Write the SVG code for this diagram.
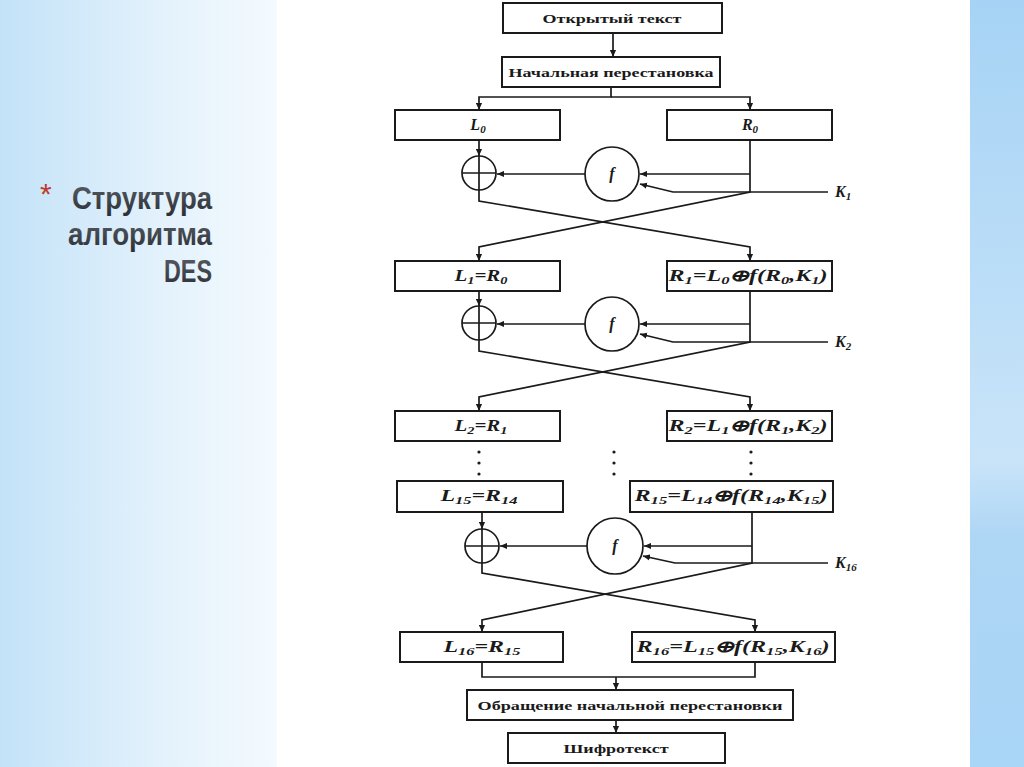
<svg xmlns="http://www.w3.org/2000/svg" width="1024" height="767" viewBox="0 0 1024 767">
<defs>
<linearGradient id="bgL" x1="0" y1="0" x2="1" y2="0">
<stop offset="0" stop-color="#c3e2f8"/>
<stop offset="0.6" stop-color="#e4f2fc"/>
<stop offset="1" stop-color="#f4fafe"/>
</linearGradient>
<linearGradient id="bgR" x1="0" y1="0" x2="0" y2="1">
<stop offset="0" stop-color="#a6d3f5"/>
<stop offset="0.6" stop-color="#c9e4f9"/>
<stop offset="0.7" stop-color="#aed6f5"/>
<stop offset="1" stop-color="#a9d5f6"/>
</linearGradient>
<linearGradient id="title" x1="0" y1="0" x2="0" y2="1">
<stop offset="0" stop-color="#5a5f66"/>
<stop offset="1" stop-color="#2b2f35"/>
</linearGradient>
<marker id="ah" viewBox="0 0 8 8" refX="8" refY="4" markerWidth="7" markerHeight="7" markerUnits="userSpaceOnUse" orient="auto">
<path d="M0,0.5 L8,4 L0,7.5 z" fill="#1a1a1a"/>
</marker>
</defs>
<style>
.box{fill:#fff;stroke:#1a1a1a;stroke-width:2}
.ln{fill:none;stroke:#1a1a1a;stroke-width:1.7}
.arr{fill:none;stroke:#1a1a1a;stroke-width:1.7;marker-end:url(#ah)}
.circ{fill:#fff;stroke:#1a1a1a;stroke-width:1.7}
.lbl{font-family:"Liberation Serif",serif;font-weight:bold;font-size:13.5px;fill:#1a1a1a;text-anchor:middle}
.eq{font-family:"Liberation Serif",serif;font-style:italic;font-weight:bold;font-size:16px;fill:#1a1a1a;text-anchor:middle}
.sub{font-size:11px}
.dot{fill:#1a1a1a}
.ttl{font-family:"Liberation Sans",sans-serif;font-weight:bold;font-size:31px;fill:url(#title);text-anchor:end}
</style>
<rect x="0" y="0" width="1024" height="767" fill="#ffffff"/>
<rect x="0" y="0" width="277" height="767" fill="url(#bgL)"/>
<rect x="970" y="0" width="54" height="767" fill="url(#bgR)"/>

<g id="title-block">
<text x="40" y="204" font-family="Liberation Sans,sans-serif" font-size="30" fill="#c0392b">*</text>
<text class="ttl" x="212" y="209" textLength="140" lengthAdjust="spacingAndGlyphs">Структура</text>
<text class="ttl" x="212" y="245" textLength="144" lengthAdjust="spacingAndGlyphs">алгоритма</text>
<text class="ttl" x="212" y="282" textLength="48" lengthAdjust="spacingAndGlyphs">DES</text>
</g>

<g id="connectors">
<path class="arr" d="M613,33 V57"/>
<path class="arr" d="M611,87 V97 H479 V110"/>
<path class="arr" d="M611,97 H750 V110"/>
<path class="arr" d="M479,140 V156"/>
<path class="arr" d="M479,190 V201 L750,247 V261"/>
<path class="arr" d="M750,140 V192 L479,247 V261"/>
<path class="arr" d="M750,174 H640"/>
<path class="arr" d="M828,192 H673 L640,184"/>
<path class="arr" d="M585,174 H497"/>
<path class="arr" d="M479,291 V306"/>
<path class="arr" d="M479,340 V351 L750,397 V411"/>
<path class="arr" d="M750,291 V342 L479,397 V411"/>
<path class="arr" d="M750,324 H640"/>
<path class="arr" d="M828,342 H673 L640,334"/>
<path class="arr" d="M585,324 H497"/>
<path class="arr" d="M482,512 V529"/>
<path class="arr" d="M482,563 V573 L755,620 V632"/>
<path class="arr" d="M752,512 V563 L482,620 V632"/>
<path class="arr" d="M752,546 H644"/>
<path class="arr" d="M828,563 H675 L643,556"/>
<path class="arr" d="M587,546 H500"/>
<path class="ln" d="M482,662 V677 H755 V662"/>
<path class="arr" d="M616,677 V690"/>
<path class="arr" d="M616,720 V733"/>
</g>

<g id="plaintext"><rect class="box" x="503" y="3" width="219" height="30"/><text class="lbl" x="612" y="23" textLength="139" lengthAdjust="spacingAndGlyphs">Открытый текст</text></g>
<g id="ip"><rect class="box" x="502" y="57" width="218" height="30"/><text class="lbl" x="611" y="77" textLength="205" lengthAdjust="spacingAndGlyphs">Начальная перестановка</text></g>

<g id="L0"><rect class="box" x="395" y="110" width="165" height="30"/><text class="eq" x="478" y="130">L<tspan class="sub" dy="3">0</tspan></text></g>
<g id="R0"><rect class="box" x="667" y="110" width="165" height="30"/><text class="eq" x="750" y="130">R<tspan class="sub" dy="3">0</tspan></text></g>

<g id="xor1"><circle class="circ" cx="479" cy="173" r="17"/><path class="ln" d="M462,173 H496 M479,156 V190"/></g>
<g id="f1"><circle class="circ" cx="612" cy="174" r="27"/><text class="eq" x="612" y="179">f</text></g>
<g id="K1"><text class="eq" x="835" y="197" style="text-anchor:start">K<tspan class="sub" dy="3">1</tspan></text></g>

<g id="L1"><rect class="box" x="395" y="261" width="165" height="30"/><text class="eq" x="481" y="281" textLength="53" lengthAdjust="spacingAndGlyphs">L<tspan class="sub" dy="3">1</tspan><tspan dy="-3">=R</tspan><tspan class="sub" dy="3">0</tspan></text></g>
<g id="R1"><rect class="box" x="667" y="261" width="165" height="30"/><text class="eq" x="748" y="281" textLength="159" lengthAdjust="spacingAndGlyphs">R<tspan class="sub" dy="3">1</tspan><tspan dy="-3">=L</tspan><tspan class="sub" dy="3">0</tspan><tspan dy="-3">⊕f(R</tspan><tspan class="sub" dy="3">0</tspan><tspan dy="-3">,K</tspan><tspan class="sub" dy="3">1</tspan><tspan dy="-3">)</tspan></text></g>

<g id="xor2"><circle class="circ" cx="479" cy="323" r="17"/><path class="ln" d="M462,323 H496 M479,306 V340"/></g>
<g id="f2"><circle class="circ" cx="612" cy="324" r="27"/><text class="eq" x="612" y="329">f</text></g>
<g id="K2"><text class="eq" x="835" y="347" style="text-anchor:start">K<tspan class="sub" dy="3">2</tspan></text></g>

<g id="L2"><rect class="box" x="395" y="411" width="165" height="30"/><text class="eq" x="481" y="431" textLength="53" lengthAdjust="spacingAndGlyphs">L<tspan class="sub" dy="3">2</tspan><tspan dy="-3">=R</tspan><tspan class="sub" dy="3">1</tspan></text></g>
<g id="R2"><rect class="box" x="667" y="411" width="165" height="30"/><text class="eq" x="748" y="431" textLength="159" lengthAdjust="spacingAndGlyphs">R<tspan class="sub" dy="3">2</tspan><tspan dy="-3">=L</tspan><tspan class="sub" dy="3">1</tspan><tspan dy="-3">⊕f(R</tspan><tspan class="sub" dy="3">1</tspan><tspan dy="-3">,K</tspan><tspan class="sub" dy="3">2</tspan><tspan dy="-3">)</tspan></text></g>

<g id="ellipsis">
<circle class="dot" cx="479" cy="452" r="1.6"/><circle class="dot" cx="479" cy="463" r="1.6"/><circle class="dot" cx="479" cy="474" r="1.6"/>
<circle class="dot" cx="614" cy="452" r="1.6"/><circle class="dot" cx="614" cy="463" r="1.6"/><circle class="dot" cx="614" cy="474" r="1.6"/>
<circle class="dot" cx="751" cy="452" r="1.6"/><circle class="dot" cx="751" cy="463" r="1.6"/><circle class="dot" cx="751" cy="474" r="1.6"/>
</g>

<g id="L15"><rect class="box" x="397" y="481" width="166" height="31"/><text class="eq" x="479" y="501" textLength="77" lengthAdjust="spacingAndGlyphs">L<tspan class="sub" dy="3">15</tspan><tspan dy="-3">=R</tspan><tspan class="sub" dy="3">14</tspan></text></g>
<g id="R15"><rect class="box" x="630" y="481" width="203" height="31"/><text class="eq" x="731" y="501" textLength="193" lengthAdjust="spacingAndGlyphs">R<tspan class="sub" dy="3">15</tspan><tspan dy="-3">=L</tspan><tspan class="sub" dy="3">14</tspan><tspan dy="-3">⊕f(R</tspan><tspan class="sub" dy="3">14</tspan><tspan dy="-3">,K</tspan><tspan class="sub" dy="3">15</tspan><tspan dy="-3">)</tspan></text></g>

<g id="xor16"><circle class="circ" cx="482" cy="546" r="17"/><path class="ln" d="M465,546 H499 M482,529 V563"/></g>
<g id="f16"><circle class="circ" cx="615" cy="546" r="28"/><text class="eq" x="615" y="551">f</text></g>
<g id="K16"><text class="eq" x="835" y="568" style="text-anchor:start">K<tspan class="sub" dy="3">16</tspan></text></g>

<g id="L16"><rect class="box" x="400" y="632" width="163" height="30"/><text class="eq" x="482" y="652" textLength="77" lengthAdjust="spacingAndGlyphs">L<tspan class="sub" dy="3">16</tspan><tspan dy="-3">=R</tspan><tspan class="sub" dy="3">15</tspan></text></g>
<g id="R16"><rect class="box" x="632" y="632" width="203" height="30"/><text class="eq" x="733" y="652" textLength="193" lengthAdjust="spacingAndGlyphs">R<tspan class="sub" dy="3">16</tspan><tspan dy="-3">=L</tspan><tspan class="sub" dy="3">15</tspan><tspan dy="-3">⊕f(R</tspan><tspan class="sub" dy="3">15</tspan><tspan dy="-3">,K</tspan><tspan class="sub" dy="3">16</tspan><tspan dy="-3">)</tspan></text></g>

<g id="fp"><rect class="box" x="467" y="690" width="326" height="30"/><text class="lbl" x="630" y="710" textLength="305" lengthAdjust="spacingAndGlyphs">Обращение начальной перестановки</text></g>
<g id="ciphertext"><rect class="box" x="508" y="733" width="217" height="30"/><text class="lbl" x="616" y="753" textLength="105" lengthAdjust="spacingAndGlyphs">Шифротекст</text></g>
</svg>
